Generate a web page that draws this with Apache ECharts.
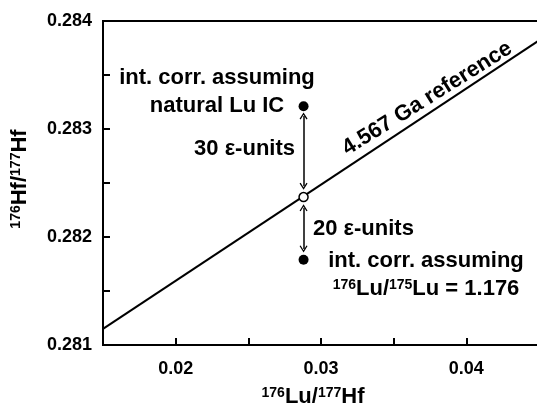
<!DOCTYPE html>
<html>
<head>
<meta charset="utf-8">
<script src="https://cdn.jsdelivr.net/npm/echarts@6/dist/echarts.min.js"></script>
<style>
html,body{margin:0;padding:0;background:#fff;}
#chart{width:537px;height:408px;}
</style>
</head>
<body>
<div id="chart"></div>
<script>
// ---- data ----
const refLine176Lu = [0.015, 0.045];          // 176Lu/177Hf along the 4.567 Ga reference
const refLine176Hf = [0.28115, 0.28382];      // 176Hf/177Hf along the reference
const pointLu = 0.0288;                       // 176Lu/177Hf of the sample
const naturalHf = 0.28321;                    // int. corr. assuming natural Lu IC
const referenceHf = 0.28237;                  // on the reference line (open circle)
const lu176Hf = 0.28179;                      // int. corr. assuming 176Lu/175Lu = 1.176
const arrowUpper = [0.28312, 0.28247];        // 30 epsilon-unit arrow ends
const arrowLower = [0.28227, 0.28189];        // 20 epsilon-unit arrow ends
const xTickLabels = ['0.02', '0.03', '0.04'];
const yTickLabels = ['0.281', '0.282', '0.283', '0.284'];

const FONT = '"Liberation Sans", Arial, Helvetica, sans-serif';
const chev = 'path://M5,0 L10,9 L8.6,10 L5,3.2 L1.4,10 L0,9 Z';

const chart = echarts.init(document.getElementById('chart'), null, {renderer: 'canvas'});

const nameRich = {
  s: {fontSize: 14, fontWeight: 'bold', fontFamily: FONT, color: '#000', verticalAlign: 'top', lineHeight: 14},
  m: {fontSize: 22, fontWeight: 'bold', fontFamily: FONT, color: '#000', lineHeight: 22}
};

const option = {
  backgroundColor: '#fff',
  animation: false,
  grid: {
    left: 103, top: 21, right: -2, bottom: 63,
    show: true, borderColor: '#000', borderWidth: 2,
    containLabel: false, outerBoundsMode: 'none'
  },
  xAxis: {
    type: 'value', min: 0.015, max: 0.045, interval: 0.005,
    axisLine: {show: true, lineStyle: {color: '#000', width: 2}},
    axisTick: {show: true, inside: true, length: 7, lineStyle: {color: '#000', width: 2}},
    splitLine: {show: false},
    axisLabel: {
      margin: 15, color: '#000', fontSize: 18, fontWeight: 'bold', fontFamily: FONT,
      showMinLabel: false, showMaxLabel: false,
      formatter: v => { const t = v.toFixed(2); return (xTickLabels.includes(t) && Math.abs(v - parseFloat(t)) < 1e-9) ? t : ''; }
    },
    name: '{s|176}{m|Lu/}{s|177}{m|Hf}',
    nameLocation: 'middle', nameGap: 41,
    nameTextStyle: {rich: nameRich, padding: [0, 16, 0, 0]}
  },
  yAxis: {
    type: 'value', min: 0.281, max: 0.284, interval: 0.0005,
    axisLine: {show: true, lineStyle: {color: '#000', width: 2}},
    axisTick: {show: true, inside: true, length: 7, lineStyle: {color: '#000', width: 2}},
    splitLine: {show: false},
    axisLabel: {
      margin: 11, color: '#000', fontSize: 18, fontWeight: 'bold', fontFamily: FONT,
      formatter: v => { const t = v.toFixed(3); return (yTickLabels.includes(t) && Math.abs(v - parseFloat(t)) < 1e-9) ? t : ''; }
    },
    name: '{s|176}{m|Hf/}{s|177}{m|Hf}',
    nameLocation: 'middle', nameGap: 72, nameRotate: 90,
    nameTextStyle: {rich: nameRich, padding: [0, 0, 0, 8]}
  },
  series: [
    {
      type: 'line', silent: true, showSymbol: false, symbol: 'none',
      data: refLine176Lu.map((x, i) => [x, refLine176Hf[i]]),
      lineStyle: {color: '#000', width: 2, opacity: 1}, z: 2
    },
    {
      type: 'scatter', silent: true, symbol: 'circle', symbolSize: 10,
      data: [[pointLu, naturalHf], [pointLu, lu176Hf]],
      itemStyle: {color: '#000', opacity: 1}, z: 4
    },
    {
      type: 'scatter', silent: true, symbol: 'circle', symbolSize: 9,
      data: [[pointLu, referenceHf]],
      itemStyle: {color: '#fff', borderColor: '#000', borderWidth: 1.5, opacity: 1}, z: 5,
      markLine: {
        silent: true, animation: false,
        symbol: [chev, chev], symbolSize: [8, 7],
        label: {show: false},
        itemStyle: {color: '#000', opacity: 1},
        lineStyle: {color: '#000', width: 1.5, type: 'solid', opacity: 1},
        emphasis: {disabled: true},
        data: [
          [{coord: [pointLu, arrowUpper[0]]}, {coord: [pointLu, arrowUpper[1]]}],
          [{coord: [pointLu, arrowLower[0]]}, {coord: [pointLu, arrowLower[1]]}]
        ]
      }
    }
  ],
  graphic: [
    {type: 'text', x: 217, y: 78.4, silent: true,
     style: {text: 'int. corr. assuming', font: 'bold 22px ' + FONT, fill: '#000', align: 'center', verticalAlign: 'middle'}},
    {type: 'text', x: 217, y: 105.7, silent: true,
     style: {text: 'natural Lu IC', font: 'bold 22px ' + FONT, fill: '#000', align: 'center', verticalAlign: 'middle'}},
    {type: 'text', x: 295, y: 149, silent: true,
     style: {text: '30 ε-units', font: 'bold 22px ' + FONT, fill: '#000', align: 'right', verticalAlign: 'middle'}},
    {type: 'text', x: 313, y: 229, silent: true,
     style: {text: '20 ε-units', font: 'bold 22px ' + FONT, fill: '#000', align: 'left', verticalAlign: 'middle'}},
    {type: 'text', x: 426, y: 261.4, silent: true,
     style: {text: 'int. corr. assuming', font: 'bold 22px ' + FONT, fill: '#000', align: 'center', verticalAlign: 'middle'}},
    {type: 'text', x: 426, y: 289, silent: true,
     style: {text: '{s|176}{m|Lu/}{s|175}{m|Lu = 1.176}', align: 'center', verticalAlign: 'middle',
             rich: {
               s: {fontSize: 14, fontWeight: 'bold', fontFamily: FONT, fill: '#000', verticalAlign: 'top', lineHeight: 14},
               m: {fontSize: 22, fontWeight: 'bold', fontFamily: FONT, fill: '#000', lineHeight: 22}
             }}},
    {type: 'text', x: 427.3, y: 98.6, rotation: 32 * Math.PI / 180, silent: true,
     style: {text: '4.567 Ga reference', font: 'bold 22px ' + FONT, fill: '#000', align: 'center', verticalAlign: 'middle'}}
  ]
};
chart.setOption(option);
</script>
</body>
</html>
